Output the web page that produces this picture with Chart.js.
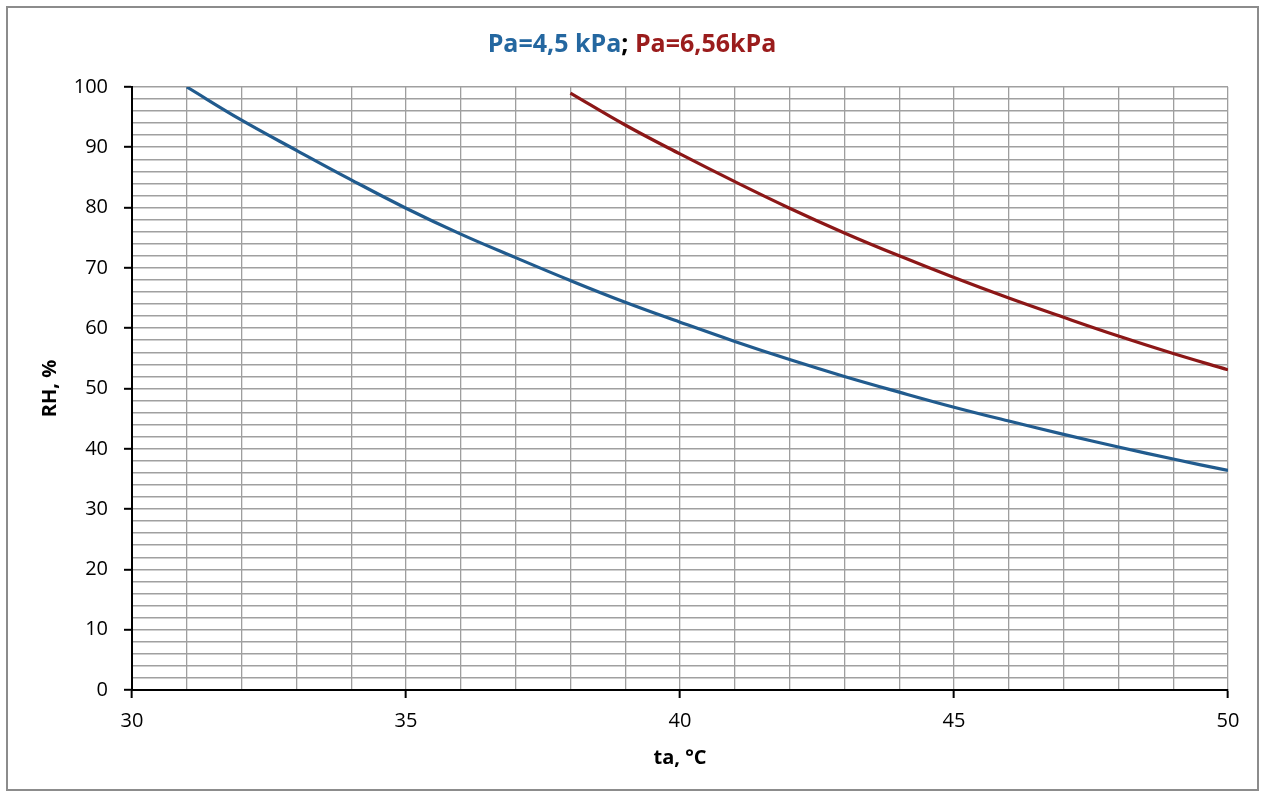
<!DOCTYPE html>
<html>
<head>
<meta charset="utf-8">
<script src="https://cdn.jsdelivr.net/npm/chart.js@4/dist/chart.umd.min.js"></script>
<style>
  html, body { margin: 0; padding: 0; background: #fff; }
  #wrap { position: relative; width: 1264px; height: 792px; }
  #frame { position: absolute; left: 6px; top: 6px; width: 1249px; height: 781px;
           border: 2px solid #8c8c8c; pointer-events: none; }
  #title { position: absolute; left: 0; width: 1264px; top: 27px; text-align: center;
           font: bold 25px "Open Sans", sans-serif; line-height: 30px; color: #000; }
  .blue { color: #2467a0; }
  .red { color: #9a1c1c; }
</style>
</head>
<body>
<div id="wrap">
  <canvas id="rhChart" width="1264" height="792"></canvas>
  <div id="title"><span class="blue">Pa=4,5 kPa</span>; <span class="red">Pa=6,56kPa</span></div>
  <div id="frame"></div>
</div>
<script>
// values
const tempsBlue = [31, 32, 33, 34, 35, 36, 37, 38, 39, 40, 41, 42, 43, 44, 45, 46, 47, 48, 49, 50]
const rhBlue = [100, 94.5, 89.5, 84.6, 79.9, 75.6, 71.7, 67.9, 64.3, 61.0, 57.8, 54.8, 52.0, 49.4, 46.9, 44.6, 42.4, 40.3, 38.3, 36.4]

const tempsRed = [38, 39, 40, 41, 42, 43, 44, 45, 46, 47, 48, 49, 50]
const rhRed = [99, 93.7, 88.9, 84.3, 79.9, 75.8, 72.0, 68.4, 65.0, 61.8, 58.7, 55.8, 53.1]

const xTickLabels = [30, 35, 40, 45, 50]
const yTickLabels = [0, 10, 20, 30, 40, 50, 60, 70, 80, 90, 100]

const tickFont = { family: 'Open Sans', size: 20 }
const titleFont = { family: 'Open Sans', size: 20, weight: 'bold' }

const toPoints = (xs, ys) => xs.map((x, i) => ({ x, y: ys[i] }))

const renderChart = () => {

    const data = {
        datasets: [{
            data: toPoints(tempsBlue, rhBlue),
            borderColor: '#215b8e',
            borderWidth: 3.2,
            pointRadius: 0,
            tension: .4
        }, {
            data: toPoints(tempsRed, rhRed),
            borderColor: '#8c1717',
            borderWidth: 3.2,
            pointRadius: 0,
            tension: .4
        }]
    }

    const options = {
        responsive: false,
        animation: false,
        layout: { padding: { top: 87, right: 36, left: 0, bottom: 0 } },
        plugins: {
            legend: { display: false },
            tooltip: { enabled: false }
        },
        scales: {
            x: {
                type: 'linear',
                min: 30,
                max: 50,
                afterFit: scale => { scale.height = 102 },
                ticks: {
                    stepSize: 1,
                    autoSkip: false,
                    maxRotation: 0,
                    padding: 11,
                    color: '#000',
                    font: tickFont,
                    callback: v => xTickLabels.includes(v) ? String(v) : ''
                },
                grid: {
                    color: '#9e9e9e',
                    lineWidth: 1.3,
                    tickLength: 8,
                    tickColor: ctx => xTickLabels.includes(ctx.tick.value) ? '#000' : 'rgba(0,0,0,0)',
                    tickWidth: 2
                },
                border: { color: '#000', width: 2 },
                title: {
                    display: true,
                    text: 'ta, °C',
                    color: '#000',
                    font: titleFont,
                    padding: { top: 0, bottom: 22 }
                }
            },
            y: {
                min: 0,
                max: 100,
                afterFit: scale => { scale.width = 132 },
                ticks: {
                    stepSize: 2,
                    autoSkip: false,
                    padding: 16,
                    color: '#000',
                    font: tickFont,
                    callback: v => yTickLabels.includes(v) ? String(v) : ''
                },
                grid: {
                    color: '#a0a0a0',
                    lineWidth: 1.6,
                    tickLength: 8,
                    tickColor: ctx => yTickLabels.includes(ctx.tick.value) ? '#000' : 'rgba(0,0,0,0)',
                    tickWidth: 2
                },
                border: { color: '#000', width: 2 },
                title: {
                    display: true,
                    text: 'RH, %',
                    color: '#000',
                    font: titleFont,
                    padding: { top: 38, bottom: 0 }
                }
            }
        }
    }

    new Chart('rhChart', { type: 'line', data, options })
}

renderChart()
</script>
</body>
</html>
